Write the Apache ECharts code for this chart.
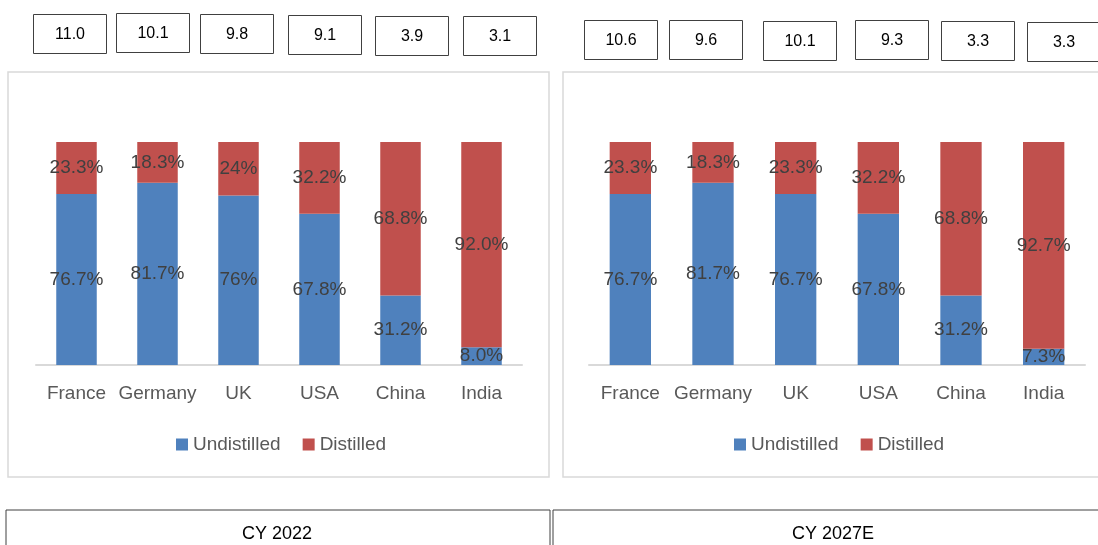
<!DOCTYPE html>
<html>
<head>
<meta charset="utf-8">
<script src="https://cdn.jsdelivr.net/npm/echarts@6/dist/echarts.min.js"></script>
<style>
  html,body{margin:0;padding:0;background:#fff;}
  #main{width:1098px;height:545px;}
</style>
</head>
<body>
<div id="main"></div>
<script>
const categories = ['France', 'Germany', 'UK', 'USA', 'China', 'India']

const undistilled2022 = [76.7, 81.7, 76, 67.8, 31.2, 8.0]
const distilled2022 = [23.3, 18.3, 24, 32.2, 68.8, 92.0]
const undistilled2022Labels = ['76.7%', '81.7%', '76%', '67.8%', '31.2%', '8.0%']
const distilled2022Labels = ['23.3%', '18.3%', '24%', '32.2%', '68.8%', '92.0%']

const undistilled2027 = [76.7, 81.7, 76.7, 67.8, 31.2, 7.3]
const distilled2027 = [23.3, 18.3, 23.3, 32.2, 68.8, 92.7]
const undistilled2027Labels = ['76.7%', '81.7%', '76.7%', '67.8%', '31.2%', '7.3%']
const distilled2027Labels = ['23.3%', '18.3%', '23.3%', '32.2%', '68.8%', '92.7%']

const totals2022 = [11.0, 10.1, 9.8, 9.1, 3.9, 3.1]
const totals2027 = [10.6, 9.6, 10.1, 9.3, 3.3, 3.3]

const periods = ['CY 2022', 'CY 2027E']

// box positions (left, top) for the totals above each panel
const boxPos2022 = [[33, 14], [116, 13], [200, 14], [288, 15], [375, 16], [463, 16]]
const boxPos2027 = [[584, 20], [669, 20], [763, 21], [855, 20], [941, 21], [1027, 22]]

const FONT = 'Liberation Sans'
const BLUE = '#4F81BD'
const RED = '#C0504D'

var myChart = echarts.init(document.getElementById('main'))

const makeBar = (name, data, labels, idx) => ({
  name: name,
  type: 'bar',
  stack: 'p' + idx,
  xAxisIndex: idx,
  yAxisIndex: idx,
  barWidth: '50%',
  data: data,
  itemStyle: { color: name === 'Undistilled' ? BLUE : RED },
  label: {
    show: true,
    position: 'inside',
    color: '#404040',
    fontFamily: FONT,
    fontSize: 19,
    formatter: p => labels[p.dataIndex]
  },
  emphasis: { disabled: true }
})

const xAx = (idx) => ({
  type: 'category',
  gridIndex: idx,
  data: categories,
  axisTick: { show: false },
  axisLine: { lineStyle: { color: '#d9d9d9', width: 2 } },
  axisLabel: { color: '#595959', fontFamily: FONT, fontSize: 19, margin: 19, interval: 0 }
})

const yAx = (idx) => ({
  type: 'value',
  gridIndex: idx,
  min: 0,
  max: 100,
  show: false,
  splitLine: { show: false }
})

const legend = (idx, cx) => ({
  data: ['Undistilled', 'Distilled'],
  left: cx - 112,
  top: 430,
  icon: 'rect',
  itemWidth: 12,
  itemHeight: 12,
  itemGap: 22,
  textStyle: { color: '#595959', fontFamily: FONT, fontSize: 19 },
  selectedMode: false
})

// graphic elements: panel frames, totals boxes, period boxes
var graphics = []
graphics.push({ type: 'rect', shape: { x: 8, y: 72, width: 541, height: 405 }, style: { fill: 'none', stroke: '#d9d9d9', lineWidth: 1.5 }, silent: true })
graphics.push({ type: 'rect', shape: { x: 563, y: 72, width: 560, height: 405 }, style: { fill: 'none', stroke: '#d9d9d9', lineWidth: 1.5 }, silent: true })

const addBoxes = (totals, pos) => {
  totals.forEach((v, i) => {
    graphics.push({
      type: 'group',
      left: pos[i][0],
      top: pos[i][1],
      children: [
        { type: 'rect', shape: { x: 0, y: 0, width: 73, height: 39 }, style: { fill: '#fff', stroke: '#404040', lineWidth: 1 } },
        { type: 'text', x: 36.5, y: 20, style: { text: v.toFixed(1), fill: '#000', font: '16px ' + FONT, align: 'center', verticalAlign: 'middle' } }
      ]
    })
  })
}
addBoxes(totals2022, boxPos2022)
addBoxes(totals2027, boxPos2027)

graphics.push({ type: 'rect', shape: { x: 6, y: 510, width: 544, height: 50 }, style: { fill: 'none', stroke: '#404040', lineWidth: 1 } })
graphics.push({ type: 'rect', shape: { x: 553, y: 510, width: 560, height: 50 }, style: { fill: 'none', stroke: '#404040', lineWidth: 1 } })
graphics.push({ type: 'text', x: 277, y: 534, style: { text: periods[0], fill: '#000', font: '18px ' + FONT, align: 'center', verticalAlign: 'middle' } })
graphics.push({ type: 'text', x: 833, y: 534, style: { text: periods[1], fill: '#000', font: '18px ' + FONT, align: 'center', verticalAlign: 'middle' } })

myChart.setOption({
  animation: false,
  grid: [
    { left: 36, top: 142, width: 486, height: 223 },
    { left: 589, top: 142, width: 496, height: 223 }
  ],
  xAxis: [xAx(0), xAx(1)],
  yAxis: [yAx(0), yAx(1)],
  legend: [legend(0, 283), legend(1, 841)],
  series: [
    makeBar('Undistilled', undistilled2022, undistilled2022Labels, 0),
    makeBar('Distilled', distilled2022, distilled2022Labels, 0),
    makeBar('Undistilled', undistilled2027, undistilled2027Labels, 1),
    makeBar('Distilled', distilled2027, distilled2027Labels, 1)
  ],
  graphic: graphics
})
</script>
</body>
</html>
